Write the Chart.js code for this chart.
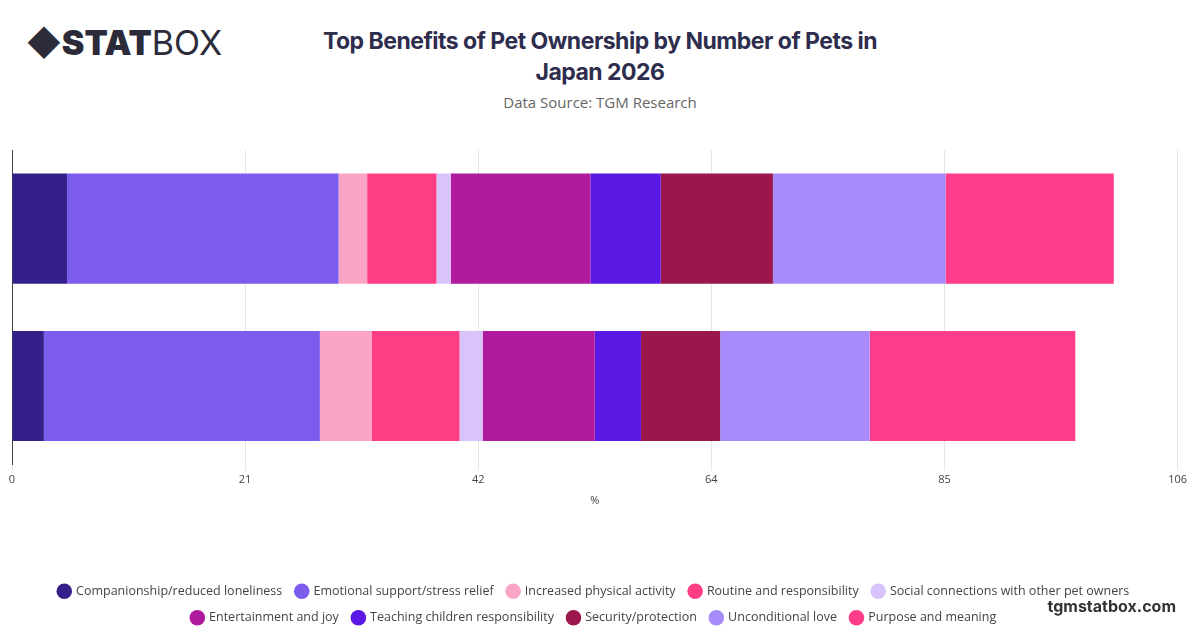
<!DOCTYPE html>
<html>
<head>
<meta charset="utf-8">
<script src="https://cdn.jsdelivr.net/npm/chart.js@4/dist/chart.umd.min.js"></script>
<style>
  body { margin: 0; width: 1200px; height: 628px; background: #fff; font-family: 'Open Sans', sans-serif; position: relative; overflow: hidden; }
  #logo { position: absolute; left: 26px; top: 22px; font-family: 'Inter', sans-serif; font-size: 34px; color: #2b2b3a; }
  #logo b { font-weight: 900; }
  #title { position: absolute; left: 250px; width: 700px; top: 26px; text-align: center; font-family: 'Inter', sans-serif; font-weight: 700; font-size: 23px; line-height: 31px; color: #2e2d4d; letter-spacing: -0.5px; }
  #source { position: absolute; left: 250px; width: 700px; top: 92px; text-align: center; font-size: 15px; color: #666; }
  #wrap { position: absolute; left: 0; top: 142px; width: 1190px; height: 492px; }
  #brand { position: absolute; right: 24px; bottom: 12px; font-family: 'Inter', sans-serif; font-weight: 700; font-size: 16px; color: #333; }
</style>
</head>
<body>
<div id="logo">&#9670;<b>STAT</b>BOX</div>
<div id="title">Top Benefits of Pet Ownership by Number of Pets in<br>Japan 2026</div>
<div id="source">Data Source: TGM Research</div>
<div id="wrap"><canvas id="chart"></canvas></div>
<div id="brand">tgmstatbox.com</div>
<script>
const categories = ['1 pet', '2+ pets'];
const seriesNames = ['Companionship/reduced loneliness', 'Emotional support/stress relief', 'Increased physical activity', 'Routine and responsibility', 'Social connections with other pet owners', 'Entertainment and joy', 'Teaching children responsibility', 'Security/protection', 'Unconditional love', 'Purpose and meaning'];
const seriesValues = [
  [5.0, 2.9],
  [24.7, 25.1],
  [2.6, 4.7],
  [6.3, 8.0],
  [1.3, 2.1],
  [12.7, 10.2],
  [6.4, 4.2],
  [10.2, 7.2],
  [15.7, 13.6],
  [15.3, 18.7]
];
const colors = ['#35208a', '#7b5ced', '#fba5c6', '#ff3d84', '#d9c3fb', '#b01a9f', '#5a18e4', '#9a164d', '#a78bfa', '#ff3d8a'];
const tickLabels = [0, 21, 42, 64, 85, 106];

const datasets = seriesNames.map((name, i) => ({
  label: name,
  data: seriesValues[i],
  backgroundColor: colors[i],
  borderWidth: 0,
  barPercentage: 0.7,
  categoryPercentage: 1
}));

new Chart(document.getElementById('chart'), {
  type: 'bar',
  data: { labels: categories, datasets: datasets },
  options: {
    indexAxis: 'y',
    responsive: true,
    maintainAspectRatio: false,
    animation: false,
    layout: { padding: { left: 4, right: 6, top: 8, bottom: 0 } },
    plugins: {
      legend: {
        position: 'bottom',
        labels: { usePointStyle: true, pointStyle: 'circle', boxWidth: 11, boxHeight: 11, padding: 14, color: '#444', font: { family: 'Open Sans', size: 12.5 } }
      },
      tooltip: { enabled: false }
    },
    scales: {
      x: {
        stacked: true,
        min: 0,
        max: 106,
        afterBuildTicks: axis => { axis.ticks = tickLabels.map((t, i) => ({ value: i * 21.2 })); },
        ticks: {
          color: '#444',
          font: { family: 'Open Sans', size: 11 },
          callback: (v, i) => tickLabels[i]
        },
        grid: { color: '#e6e6e6', drawTicks: true, tickLength: 6 },
        border: { display: false },
        title: { display: true, text: '%', color: '#444', padding: { top: 4, bottom: 64 }, font: { family: 'Open Sans', size: 11 } }
      },
      y: {
        stacked: true,
        ticks: { display: false },
        grid: { display: false },
        border: { color: '#444' }
      }
    }
  }
});
</script>
</body>
</html>
